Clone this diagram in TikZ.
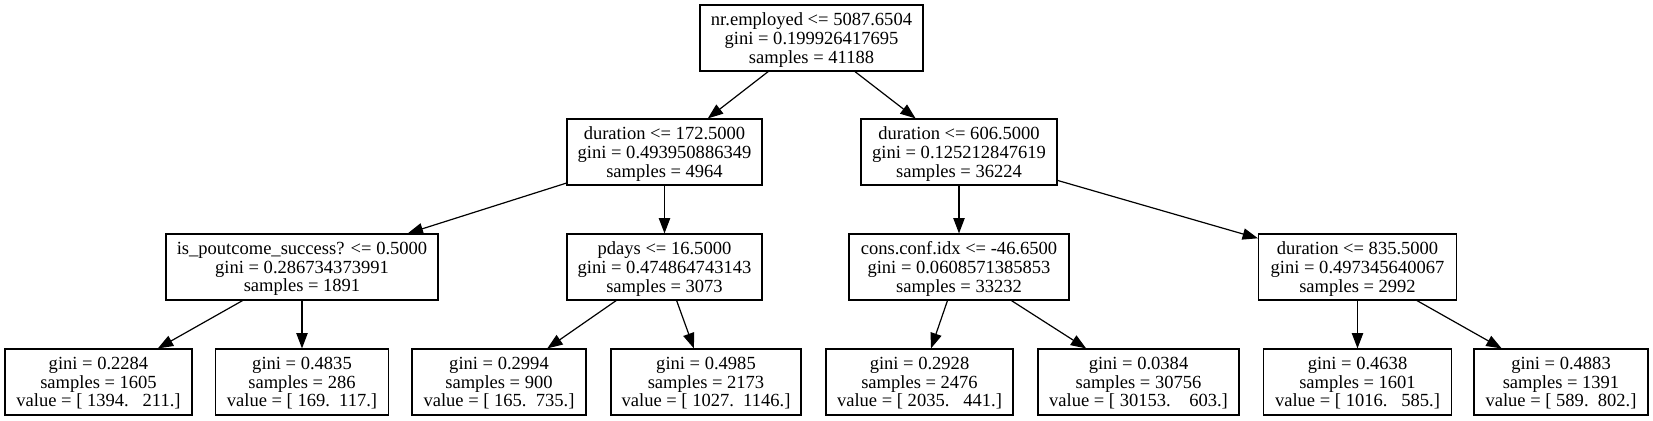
\documentclass[tikz,border=0pt]{standalone}
\usepackage{fontspec}
\setmainfont{Liberation Serif}
\usetikzlibrary{arrows.meta}
\tikzset{
  tn/.style={draw, line width=0.85pt, rectangle, inner sep=0pt, align=center,
    minimum height=49.5pt, minimum width=#1*0.75pt, text depth=0pt,
    font=\fontsize{13.9pt}{14pt}\selectfont},
  edge/.style={line width=0.9pt, -{Triangle[length=11.5pt,width=8.5pt]}}
}
\begin{document}
\begin{tikzpicture}[x=0.75pt,y=-0.75pt]
\useasboundingbox[fill=white] (0,0) rectangle (1653,421);
% level 1
\node[tn=223] (root) at (811.5,38) {nr.employed <= 5087.6504\\gini = 0.199926417695\\samples = 41188};
% level 2
\node[tn=195] (d172) at (664.5,152) {duration <= 172.5000\\gini = 0.493950886349\\samples = 4964};
\node[tn=196] (d606) at (959,152) {duration <= 606.5000\\gini = 0.125212847619\\samples = 36224};
% level 3
\node[tn=272] (pout) at (302,267) {is\_poutcome\_success? <= 0.5000\\gini = 0.286734373991\\samples = 1891};
\node[tn=195] (pdays) at (664.5,267) {pdays <= 16.5000\\gini = 0.474864743143\\samples = 3073};
\node[tn=220] (cons) at (959,267) {cons.conf.idx <= -46.6500\\gini = 0.0608571385853\\samples = 33232};
\node[tn=198] (d835) at (1357.5,267) {duration <= 835.5000\\gini = 0.497345640067\\samples = 2992};
% level 4
\node[tn=187] (l1) at (98.5,382) {gini = 0.2284\\samples = 1605\\value = [ 1394.~~~211.]};
\node[tn=173] (l2) at (302,382) {gini = 0.4835\\samples = 286\\value = [ 169.~~117.]};
\node[tn=174] (l3) at (499,382) {gini = 0.2994\\samples = 900\\value = [ 165.~~735.]};
\node[tn=190] (l4) at (706,382) {gini = 0.4985\\samples = 2173\\value = [ 1027.~~1146.]};
\node[tn=187] (l5) at (919.5,382) {gini = 0.2928\\samples = 2476\\value = [ 2035.~~~441.]};
\node[tn=201] (l6) at (1138.5,382) {gini = 0.0384\\samples = 30756\\value = [ 30153.~~~~603.]};
\node[tn=188] (l7) at (1357.5,382) {gini = 0.4638\\samples = 1601\\value = [ 1016.~~~585.]};
\node[tn=174] (l8) at (1561,382) {gini = 0.4883\\samples = 1391\\value = [ 589.~~802.]};
% edges
\draw[edge] (root) -- (d172);
\draw[edge] (root) -- (d606);
\draw[edge] (d172) -- (pout);
\draw[edge] (d172) -- (pdays);
\draw[edge] (d606) -- (cons);
\draw[edge] (d606) -- (d835);
\draw[edge] (pout) -- (l1);
\draw[edge] (pout) -- (l2);
\draw[edge] (pdays) -- (l3);
\draw[edge] (pdays) -- (l4);
\draw[edge] (cons) -- (l5);
\draw[edge] (cons) -- (l6);
\draw[edge] (d835) -- (l7);
\draw[edge] (d835) -- (l8);
\end{tikzpicture}
\end{document}
